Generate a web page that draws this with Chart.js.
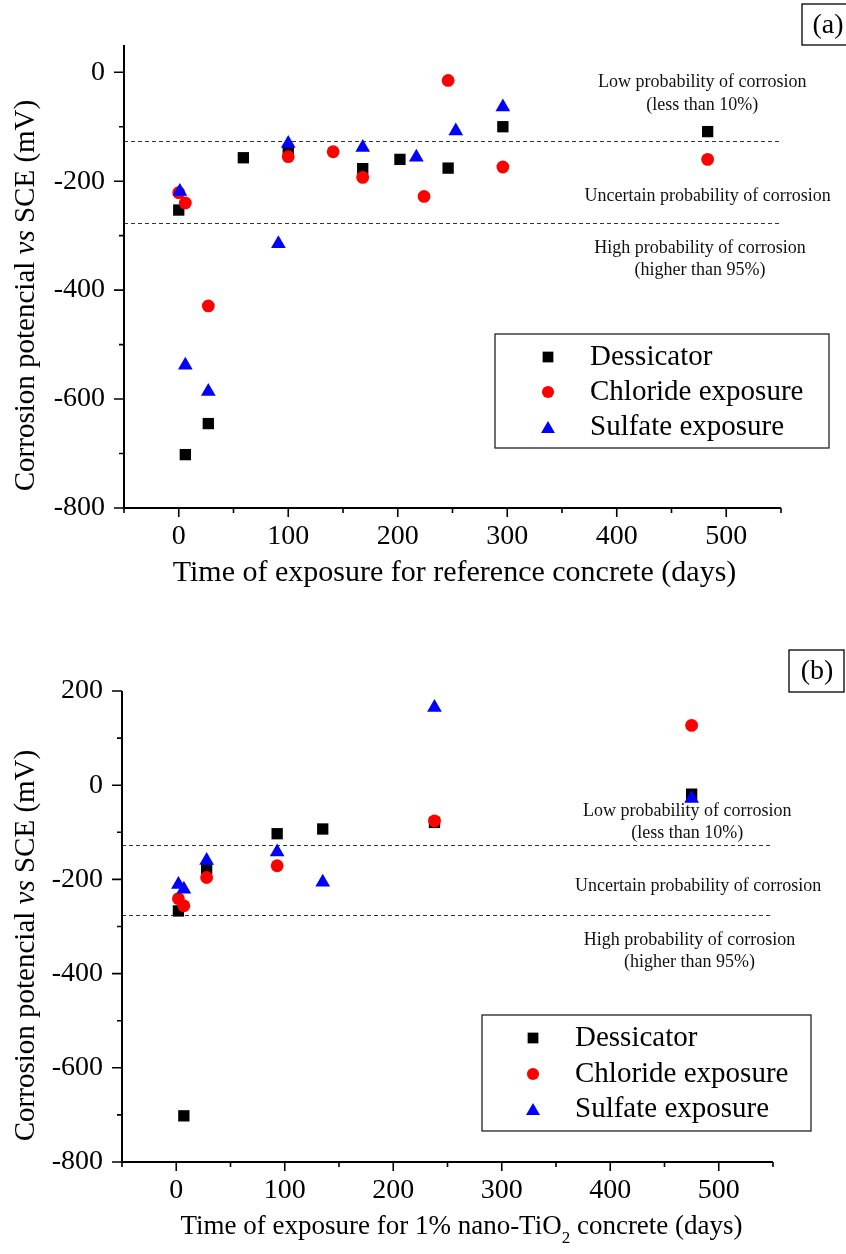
<!DOCTYPE html>
<html><head><meta charset="utf-8">
<script src="https://cdn.jsdelivr.net/npm/chart.js@4.4.1/dist/chart.umd.min.js"></script>
<style>
html,body{margin:0;padding:0;background:#fff;}
body{width:846px;height:1254px;position:relative;overflow:hidden;}
canvas{position:absolute;left:0;}
#c1{top:0;} #c2{top:620px;}
</style></head><body>
<canvas id="c1" width="846" height="610"></canvas>
<canvas id="c2" width="846" height="634"></canvas>
<script>
// ---------- data ----------
const seriesLabels = ['Dessicator', 'Chloride exposure', 'Sulfate exposure'];
const seriesColors = ['#000000', '#ff0000', '#0000ff'];
const seriesStyles = ['rect', 'circle', 'triangle'];
const thresholdsMv = [-126, -276];

// (a) reference concrete
const refDesDays = [0, 6, 27, 59, 100, 168, 202, 246, 296, 483];
const refDesMv   = [-253, -702, -645, -157, -144, -177, -160, -176, -100, -109];
const refChlDays = [0, 6, 27, 100, 141, 168, 224, 246, 296, 483];
const refChlMv   = [-221, -240, -429, -155, -146, -193, -228, -15, -174, -160];
const refSulDays = [1, 6, 27, 91, 100, 168, 217, 253, 296];
const refSulMv   = [-219, -538, -586, -315, -131, -138, -156, -108, -64];

// (b) 1% nano-TiO2 concrete
const tioDesDays = [2, 7, 28, 93, 135, 238, 475];
const tioDesMv   = [-267, -702, -177, -103, -93, -79, -19];
const tioChlDays = [2, 7, 28, 93, 238, 475];
const tioChlMv   = [-241, -256, -196, -171, -76, 127];
const tioSulDays = [2, 7, 28, 93, 135, 238, 475];
const tioSulMv   = [-211, -221, -160, -142, -206, 165, -28];

const yTicksA = [-800, -600, -400, -200, 0];
const yTicksB = [-800, -600, -400, -200, 0, 200];
const xTickLabels = [0, 100, 200, 300, 400, 500];

const yTitleParts = [['Corrosion potencial ', ''], ['vs', 'italic'], [' SCE (mV)', '']];
const xTitleA = [['Time of exposure for reference concrete (days)', '']];
const xTitleB = [['Time of exposure for 1% nano-TiO', ''], ['2', 'sub'], [' concrete (days)', '']];

const notesA = [
  [478, -19, 'Low probability of corrosion'],
  [478, -60, '(less than 10%)'],
  [483, -228, 'Uncertain probability of corrosion'],
  [476, -323, 'High probability of corrosion'],
  [476, -364, '(higher than 95%)']
];
const notesB = [
  [471, -55, 'Low probability of corrosion'],
  [471, -101, '(less than 10%)'],
  [481, -214, 'Uncertain probability of corrosion'],
  [473, -329, 'High probability of corrosion'],
  [473, -376, '(higher than 95%)']
];

const SERIF = '"Liberation Serif", "Times New Roman", serif';

function pts(xs, ys) { return xs.map((v, i) => ({x: v, y: ys[i]})); }

function drawMarker(ctx, style, r, x, y) {
  ctx.beginPath();
  if (style === 'rect') {
    const s = Math.SQRT1_2 * r;
    ctx.rect(x - s, y - s, 2 * s, 2 * s);
  } else if (style === 'circle') {
    ctx.arc(x, y, r, 0, Math.PI * 2);
  } else {
    let rad = 0;
    ctx.moveTo(x + Math.sin(rad) * r, y - Math.cos(rad) * r);
    rad += 2 * Math.PI / 3;
    ctx.lineTo(x + Math.sin(rad) * r, y - Math.cos(rad) * r);
    rad += 2 * Math.PI / 3;
    ctx.lineTo(x + Math.sin(rad) * r, y - Math.cos(rad) * r);
    ctx.closePath();
  }
  ctx.fill();
}
const radii = [8, 6.4, 8.5];

function richText(ctx, parts, cx, cy, size, rot) {
  ctx.save();
  ctx.translate(cx, cy);
  if (rot) ctx.rotate(rot);
  ctx.textAlign = 'left'; ctx.textBaseline = 'middle'; ctx.fillStyle = '#000';
  const fontOf = p => p[1] === 'italic' ? 'italic ' + size + 'px ' + SERIF
    : p[1] === 'sub' ? Math.round(size * 0.62) + 'px ' + SERIF : size + 'px ' + SERIF;
  let total = 0;
  const widths = parts.map(p => { ctx.font = fontOf(p); const w = ctx.measureText(p[0]).width; total += w; return w; });
  let x = -total / 2;
  parts.forEach((p, i) => {
    ctx.font = fontOf(p);
    ctx.fillText(p[0], x, p[1] === 'sub' ? size * 0.42 : 0);
    x += widths[i];
  });
  ctx.restore();
}

const decorPlugin = {
  id: 'decor',
  beforeDatasetsDraw(chart, args, o) {
    const {ctx, chartArea: a, scales: {y}} = chart;
    ctx.save();
    ctx.strokeStyle = '#333'; ctx.lineWidth = 1.1; ctx.setLineDash([4, 3]);
    thresholdsMv.forEach(v => {
      const py = Math.round(y.getPixelForValue(v)) + 0.5;
      ctx.beginPath(); ctx.moveTo(a.left, py); ctx.lineTo(a.right, py); ctx.stroke();
    });
    ctx.restore();
  },
  afterDraw(chart, args, o) {
    const {ctx, chartArea: a, scales: {x, y}} = chart;
    ctx.save();
    // axes
    ctx.strokeStyle = '#000'; ctx.lineWidth = 2;
    ctx.beginPath();
    ctx.moveTo(a.left, a.top); ctx.lineTo(a.left, a.bottom + 1);
    ctx.moveTo(a.left - 1, a.bottom); ctx.lineTo(a.right, a.bottom);
    ctx.stroke();
    ctx.lineWidth = 1.6;
    ctx.beginPath();
    for (let v = x.min; v <= x.max + 1e-6; v += 50) {
      const px = x.getPixelForValue(v);
      const len = (v % 100 === 0) ? 9 : 5;
      ctx.moveTo(px, a.bottom); ctx.lineTo(px, a.bottom + len);
    }
    const y0 = Math.ceil(y.min / 100) * 100;
    for (let v = y0; v <= y.max + 1e-6; v += 100) {
      const py = y.getPixelForValue(v);
      const len = (v % 200 === 0) ? 10 : 5;
      ctx.moveTo(a.left, py); ctx.lineTo(a.left - len, py);
    }
    ctx.stroke();

    // annotations
    ctx.fillStyle = '#111';
    ctx.font = '18px ' + SERIF;
    ctx.textAlign = 'center'; ctx.textBaseline = 'middle';
    o.notes.forEach(n => ctx.fillText(n[2], x.getPixelForValue(n[0]), y.getPixelForValue(n[1])));

    // legend
    const L = o.legend;
    ctx.strokeStyle = '#222'; ctx.lineWidth = 1.3;
    ctx.strokeRect(L.x0, L.y0, L.x1 - L.x0, L.y1 - L.y0);
    ctx.font = '29px ' + SERIF; ctx.textAlign = 'left';
    seriesLabels.forEach((lab, i) => {
      ctx.fillStyle = seriesColors[i];
      drawMarker(ctx, seriesStyles[i], radii[i] * 0.95, L.mx, L.rows[i] + (i === 2 ? 2 : 0));
      ctx.fillStyle = '#000';
      ctx.fillText(lab, L.tx, L.rows[i]);
    });

    // panel label
    const P = o.panel;
    ctx.strokeStyle = '#000'; ctx.lineWidth = 1.3;
    ctx.strokeRect(P.x0, P.y0, P.x1 - P.x0, P.y1 - P.y0);
    ctx.font = '28px ' + SERIF; ctx.textAlign = 'center'; ctx.fillStyle = '#000';
    ctx.fillText(P.text, P.tx, P.ty);
    ctx.restore();

    // axis titles
    richText(ctx, yTitleParts, o.yTitleX, (a.top + a.bottom) / 2 + o.yTitleShift, 29, -Math.PI / 2);
    richText(ctx, o.xTitle, (a.left + a.right) / 2 + o.xTitleShift, o.xTitleY, o.xTitleSize, 0);
  }
};

function makeChart(id, cfg) {
  const datasets = [
    {label: seriesLabels[0], data: cfg.des, order: 3},
    {label: seriesLabels[1], data: cfg.chl, order: 2},
    {label: seriesLabels[2], data: cfg.sul, order: 1}
  ].map((d, i) => Object.assign(d, {
    pointStyle: seriesStyles[i], pointRadius: radii[i], pointHoverRadius: radii[i],
    backgroundColor: seriesColors[i], borderWidth: 0, showLine: false
  }));
  return new Chart(document.getElementById(id), {
    type: 'scatter',
    data: {datasets},
    plugins: [decorPlugin],
    options: {
      responsive: false, animation: false, devicePixelRatio: 1,
      layout: {padding: cfg.pad},
      plugins: {
        legend: {display: false}, tooltip: {enabled: false},
        decor: {notes: cfg.notes, legend: cfg.legend, panel: cfg.panel, yTitleX: 26, yTitleShift: 19,
                xTitle: cfg.xTitle, xTitleShift: cfg.xTitleShift, xTitleY: cfg.xTitleY, xTitleSize: cfg.xTitleSize}
      },
      scales: {
        x: {
          type: 'linear', min: -50, max: 550,
          grid: {display: false, drawTicks: false}, border: {display: false},
          ticks: {
            stepSize: 50, autoSkip: false, maxRotation: 0, includeBounds: false,
            padding: cfg.xPad, color: '#000', font: {family: SERIF, size: 28},
            callback: v => xTickLabels.includes(v) ? String(v) : ''
          },
          afterFit: s => { s.height = cfg.xH; }
        },
        y: {
          type: 'linear', min: cfg.yMin, max: cfg.yMax,
          grid: {display: false, drawTicks: false}, border: {display: false},
          ticks: {
            stepSize: 100, autoSkip: false, includeBounds: false,
            padding: 19, color: '#000', font: {family: SERIF, size: 28},
            callback: v => cfg.yTicks.includes(v) ? String(v) : ''
          },
          afterFit: s => { s.width = cfg.yW; }
        }
      }
    }
  });
}

makeChart('c1', {
  des: pts(refDesDays, refDesMv), chl: pts(refChlDays, refChlMv), sul: pts(refSulDays, refSulMv),
  pad: {top: 45, right: 65, left: 0, bottom: 0}, xH: 102, yW: 124,
  yMin: -800, yMax: 50, yTicks: yTicksA, xPad: 12,
  xTitle: xTitleA, xTitleShift: 2, xTitleY: 573, xTitleSize: 30,
  notes: notesA,
  legend: {x0: 495, y0: 334, x1: 829, y1: 448, mx: 548, tx: 590, rows: [357, 392, 427]},
  panel: {x0: 802, y0: 4, x1: 850, y1: 45, text: '(a)', tx: 828, ty: 26}
});
makeChart('c2', {
  des: pts(tioDesDays, tioDesMv), chl: pts(tioChlDays, tioChlMv), sul: pts(tioSulDays, tioSulMv),
  pad: {top: 71, right: 73, left: 0, bottom: 0}, xH: 92, yW: 122,
  yMin: -800, yMax: 200, yTicks: yTicksB, xPad: 12,
  xTitle: xTitleB, xTitleShift: 14, xTitleY: 607, xTitleSize: 27,
  notes: notesB,
  legend: {x0: 482, y0: 395, x1: 811, y1: 511, mx: 533, tx: 575, rows: [418, 454, 489]},
  panel: {x0: 789, y0: 30, x1: 844, y1: 72, text: '(b)', tx: 817, ty: 52}
});
</script>
</body></html>
